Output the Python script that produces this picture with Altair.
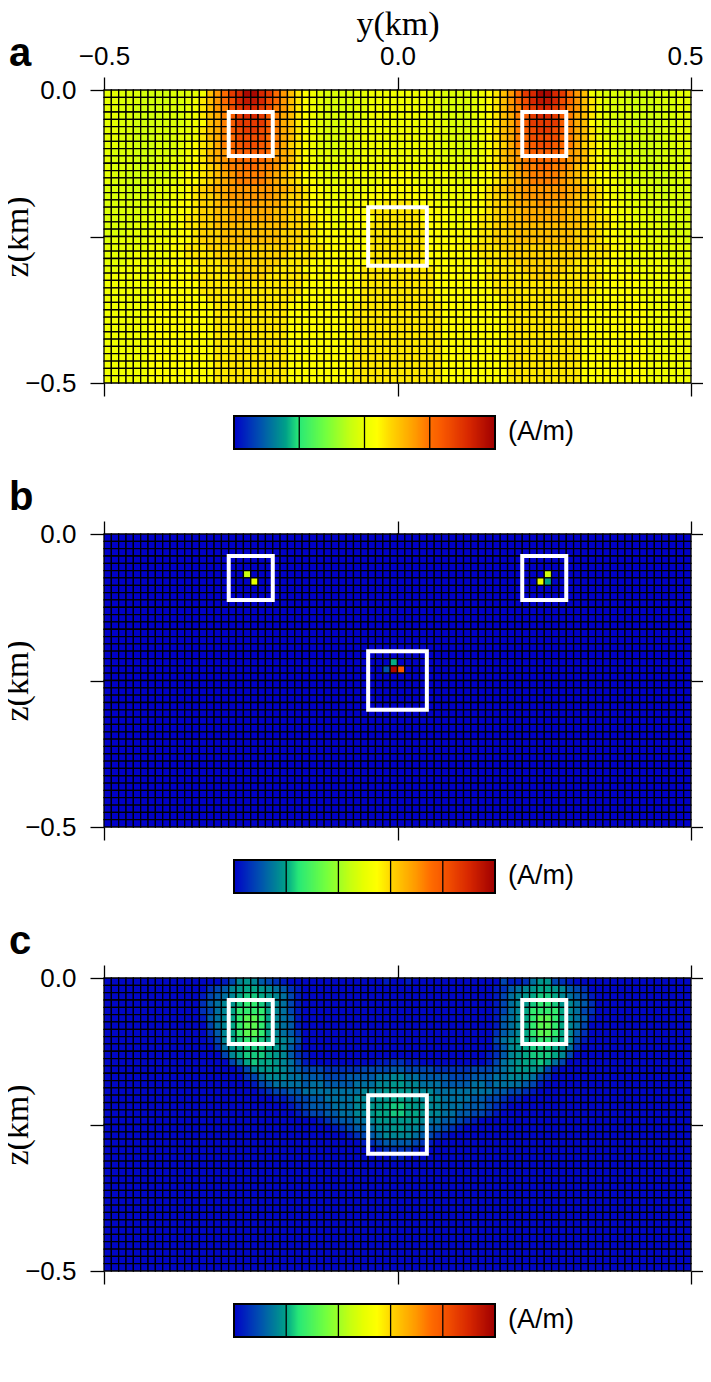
import altair as alt
import numpy as np
import pandas as pd

alt.data_transformers.disable_max_rows()

NCOL, NROW = 80, 40
STOP_T = [0, 0.1, 0.2, 0.25, 0.35, 0.45, 0.5, 0.55, 0.6, 0.7, 0.75, 0.8, 0.9, 1]
STOP_C = ["#0000c8", "#0050b0", "#00a088", "#28e878", "#70ff40", "#c8ff10", "#e8ff00", "#ffff00",
          "#ffd800", "#ff9800", "#ff7000", "#f85800", "#d82800", "#a00000"]

# Panel a: each letter is one cell, looked up in LEVEL_A (A/m); rows top to bottom, four groups of 20 columns
LEVEL_A = dict(a=-0.035, b=-0.02, c=-0.005, d=0.02, e=0.05, f=0.08, g=0.11, h=0.14, i=0.17, j=0.20,
               k=0.23, l=0.26, m=0.29, n=0.32, o=0.36, p=0.40, q=0.44, r=0.48)
ROW_A_LOW = "ddddddeeeeeeeeefffff fffffeeeeeeeeeffffff ffffffeeeeeeeeefffff fffffeeeeeeeeedddddd"
ROW_A_MID = "dddddddeeeeeefffffff fffffffeeeeeeeefffff fffffeeeeeeeefffffff fffffffeeeeeeddddddd"
ROWS_A = [
    "ccbbbaaaabbbcdhjlopr rpoljhfedcbbbbccdddd ddddccbbbbcdefhjlopr rpoljhdcbbbaaaabbbcc",
    "ccbbbaaaabbcdfhjlnpq qpnljhfedcbbbbccdddd ddddccbbbbcdefhjlnpq qpnljhfdcbbaaaabbbcc",
    "ccbbaaaabbbcdfhjknop ponkjhfedcbbbbccdddd ddddccbbbbcdefhjknop ponkjhfdcbbbaaaabbcc",
    "ccbbaaaabbbcdfhikmop pomkihfedcbbbbccdddd ddddccbbbbcdefhikmop pomkihfdcbbbaaaabbcc",
    "ccbbaaaabbbcdehikmoo oomkihfedcbbbccddddd dddddccbbbcdefhikmoo oomkihedcbbbaaaabbcc",
    "ccbbaaabbbccdfhikmno onmkihfedcbbbccddddd dddddccbbbcdefhikmno onmkihfdccbbbaaabbcc",
    "ccbbaaabbbccdfhiklnn nnlkihfedcbbbccddddd dddddccbbbcdefhiklnn nnlkihfdccbbbaaabbcc",
    "ccbbaaabbbcdefgiklmn nmlkigfedcbbcccddddd dddddcccbbcdefgiklmn nmlkigfedcbbbaaabbcc",
    "cbbbaaabbbcdefhijlmm mmljihfedccbcccddddd dddddcccbccdefhijlmm mmljihfedcbbbaaabbbc",
    "cbbbaaabbccdefhijkll llkjihfedccccccddddd dddddccccccdefhijkll llkjihfedccbbaaabbbc",
    "cbbbaabbbccdefghjkkl lkkjhgfedccccddddddd dddddddccccdefghjkkl lkkjhgfedccbbbaabbbc",
    "cbbaaabbbcdeefghijkk kkjihgfeedccddddddee eeddddddccdeefghijkk kkjihgfeedcbbbaaabbc",
    "cbbaabbbccdeefghijkk kkjihgfeeddcddddddee eeddddddcddeefghijkk kkjihgfeedccbbbaabbc",
    "bbbaabbccddefghiijjj jjjiihgfeedddddddeee eeedddddddeefghiijjj jjjiihgfeddccbbaabbb",
    "bbbabbbccddefgghijjj jjjihggfeedddddeeeee eeeeedddddeefgghijjj jjjihggfeddccbbbabbb",
    "bbbbbbcccdeefgghiiij jiiihggfeedddddeeeff ffeeedddddeefgghiiij jiiihggfeedcccbbbbbb",
    "bbbbbbccddeefgghhiii iiihhggfeedddeeeffff ffffeeedddeefgghhiii iiihhggfeeddccbbbbbb",
    "bbbbbcccddeffgghhiii iiihhggffeeddeeeefff fffeeeeddeeffgghhiii iiihhggffeddcccbbbbb",
    "bbbbcccdddeffgghhhhh hhhhhggffeeddeeeffff ffffeeeddeeffgghhhhh hhhhhggffedddcccbbbb",
    "bbbcccddddeefggghhhh hhhhgggffeeeeeeeffff ffffeeeeeeeffggghhhh hhhhgggfeeddddcccbbb",
    "bcccccdddeeefggghhhh hhhhgggffeeeeeeeffff ffffeeeeeeeffggghhhh hhhhgggfeeedddcccccb",
    "ccccccdddeefffgggggg ggggggffffeeeeeeffff ffffeeeeeeffffgggggg ggggggfffeedddcccccc",
    "ccccdddddeeffffggggg gggggffffeeeeeeeffff ffffeeeeeeeffffggggg gggggffffeedddddcccc",
    "cccddddddeeeffffgggg ggggffffeeeeeeeeffff ffffeeeeeeeeffffgggg ggggffffeeeddddddccc",
    "ccddddddeeeeeffffggg gggffffeeeeeeeefffff fffffeeeeeeeeffffggg gggffffeeeeeddddddcc",
    "dddddddeeeeeffffffgg ggffffffeeeeeeefffff fffffeeeeeeeffffffgg ggffffffeeeeeddddddd",
    ROW_A_MID,
    ROW_A_MID,
    "dddddddeeeeeeeffffff ffffffeeeeeeeeefffff fffffeeeeeeeeeffffff ffffffeeeeeeeddddddd",
] + [ROW_A_LOW] * 11

# Panel b: near-zero background and the few bright cells (column, row, A/m)
BACKGROUND_B = 0.0
BRIGHT_B = [(19, 5, 115), (20, 6, 125), (60, 5, 115), (59, 6, 125), (60, 6, 50),
            (39, 17, 52), (38, 18, 25), (39, 18, 245), (40, 18, 200)]

# Panel c: same letter scheme with LEVEL_C (A/m)
LEVEL_C = dict(a=0.02, b=0.08, c=0.15, d=0.22, e=0.28, f=0.35, g=0.42, h=0.47, i=0.51, j=0.57,
               k=0.66, l=0.80)
Q = "aaaaaaaaaaaaaaaaaaaa"
ROW_C_QUIET = f"{Q} {Q} {Q} {Q}"
ROWS_C = [
    "aaaaaaaaaaaaaaaabdgh gedcbaaaaaaaaaaaaaba abaaaaaaaaaaaadbbcfh hdcbaaaaaaaaaaaaaaaa",
    "aaaaaaaaaaaaaacdeghi ihgfecbaaaaaaaaaaaaa aaaaaaaaaaaaabcefghi ihgedcaaaaaaaaaaaaaa",
    "aaaaaaaaaaaaabdefgij jihgfdbaaaaaaaaaaaaa aaaaaaaaaaaaabdfghij jigfedbaaaaaaaaaaaaa",
    "aaaaaaaaaaaaacefghjk kjhgfdbaaaaaaaaaaaaa aaaaaaaaaaaaabdfghjk kjhgfecaaaaaaaaaaaaa",
    "aaaaaaaaaaaaacdfgikk kkigfdbaaaaaaaaaaaaa aaaaaaaaaaaaabdfgikk kkigfdcaaaaaaaaaaaaa",
    "aaaaaaaaaaaaabefgikl lkigfebaaaaaaaaaaaaa aaaaaaaaaaaaabefgikl lkigfebaaaaaaaaaaaaa",
    "aaaaaaaaaaaaaadfgikl lkigfebaaaaaaaaaaaaa aaaaaaaaaaaaabefgikl lkigfdaaaaaaaaaaaaaa",
    "aaaaaaaaaaaaaacegikl lkigfecaaaaaaaaaaaaa aaaaaaaaaaaaacefgikl lkigecaaaaaaaaaaaaaa",
    "aaaaaaaaaaaaaabdgijk kjihgfdaaaaaaaaaaaaa aaaaaaaaaaaaadfghijk kjigdbaaaaaaaaaaaaaa",
    "aaaaaaaaaaaaaaacfhij jjihgecaaaaaaaaaaaaa aaaaaaaaaaaaaceghijj jihfcaaaaaaaaaaaaaaa",
    "aaaaaaaaaaaaaaaadgij jjihgecbaaaaaaaaaaaa aaaaaaaaaaaabceghijj jigdaaaaaaaaaaaaaaaa",
    "aaaaaaaaaaaaaaaaadfi jiihgfdbaaaaaaaaabbc cbbaaaaaaaaabdfghiij ifdaaaaaaaaaaaaaaaaa",
    "aaaaaaaaaaaaaaaaaabd ghhhgfedddcccccdddde eddddcccccdddefghhhg dbaaaaaaaaaaaaaaaaaa",
    "aaaaaaaaaaaaaaaaaaac dfgggffeeedddeeeeffg gffeeeedddeeeffgggfd caaaaaaaaaaaaaaaaaaa",
    f"{Q} bdeffffeffeeeefffggh hggfffeeeeffeffffedb {Q}",
    f"{Q} abcddeeffffffffggghh hhgggffffffffeeddcba {Q}",
    f"{Q} aaabbcddeeffffggghhi ihhgggffffeeddcbbaaa {Q}",
    f"{Q} aaaaabcdeeefffgghhij jihhggfffeeedcbaaaaa {Q}",
    f"{Q} aaaaaabcddeeffgghiij jiihggffeeddcbaaaaaa {Q}",
    f"{Q} aaaaaaaaabcdeeffghhh hhhgffeedcbaaaaaaaaa {Q}",
    f"{Q} aaaaaaaaaaabcdeefggh hggfeedcbaaaaaaaaaaa {Q}",
    f"{Q} aaaaaaaaaaaaabcdefgg ggfedcbaaaaaaaaaaaaa {Q}",
    f"{Q} aaaaaaaaaaaaaaabcdee eedcbaaaaaaaaaaaaaaa {Q}",
    f"{Q} aaaaaaaaaaaaaaaaabcc ccbaaaaaaaaaaaaaaaaa {Q}",
    f"{Q} aaaaaaaaaaaaaaaaaaab baaaaaaaaaaaaaaaaaaa {Q}",
] + [ROW_C_QUIET] * 15

# White target boxes as (y left, y right, z top, z bottom) in km
BOXES = [(-0.2875, -0.2125, -0.0375, -0.1125),
         (0.2125, 0.2875, -0.0375, -0.1125),
         (-0.05, 0.05, -0.2, -0.3)]

X_TICKS = [-0.5, 0.0, 0.5]
Z_TICKS = [0.0, -0.25, -0.5]
BARS = [
    dict(lo=-0.5, hi=0.5, ticks=[-0.5, 0.0, 0.5], inner=[-0.25, 0.0, 0.25], fmt=".1f"),
    dict(lo=0, hi=250, ticks=[0, 100, 200], inner=[50, 100, 150, 200], fmt="d"),
    dict(lo=0, hi=2.5, ticks=[0, 1, 2], inner=[0.5, 1, 1.5, 2], fmt="d"),
]
PANEL_NAMES = ["a", "b", "c"]
UNIT = "(A/m)"

SANS = "Liberation Sans"
SERIF = "Liberation Serif"
W, H = 587, 293
GAP = 151
TICK_W = 1.3


def cells(values):
    rows = []
    for r in range(NROW):
        for c in range(NCOL):
            rows.append(dict(y0=-0.5 + c / NCOL, y1=-0.5 + (c + 1) / NCOL,
                             z0=-r / (2 * NROW), z1=-(r + 1) / (2 * NROW), v=values[r][c]))
    return pd.DataFrame(rows)


def from_rows(rows, level):
    return [[level[ch] for ch in row.replace(" ", "")] for row in rows]


def label_expr(fmt):
    return f"datum.value == -0.25 ? '' : replace(format(datum.value, '{fmt}'), '-', '\u2212')"


def panel(values, bar, name, first):
    color_scale = alt.Scale(domain=[bar["lo"] + t * (bar["hi"] - bar["lo"]) for t in STOP_T],
                            range=STOP_C, interpolate="rgb", clamp=True)
    xs = alt.Scale(domain=[-0.5, 0.5], nice=False, zero=False)
    zs = alt.Scale(domain=[-0.5, 0.0], nice=False, zero=False)
    common = dict(labelFont=SANS, labelFontSize=26, labelColor="black", tickColor="black",
                  tickWidth=TICK_W, domain=False, grid=False, labelOverlap=False,
                  labelFlush=False, labelBound=False)
    top_args = dict(orient="top", values=X_TICKS, tickSize=13, labelPadding=7.5, labels=first,
                    labelExpr=label_expr(".1f"), title="y(km)" if first else None)
    if first:
        top_args.update(titleFont=SERIF, titleFontSize=34, titleFontWeight="normal", titleColor="black",
                        titleX=W / 2, titleY=-56, titleAnchor="middle", titleBaseline="alphabetic",
                        labelOffset={"condition": {"test": "datum.value == 0.5", "value": -6}, "value": 0})
    left_axis = alt.Axis(orient="left", values=Z_TICKS, tickSize=14, labelPadding=14,
                         labelExpr=label_expr(".1f"), title="z(km)", titleFont=SERIF, titleFontSize=34,
                         titleFontWeight="normal", titleColor="black", titleX=-77, titleY=H / 2,
                         titleAngle=270, titleAlign="center", titleBaseline="alphabetic", **common)
    heat = alt.Chart(cells(values)).mark_rect(stroke="#000000", strokeWidth=1.3).encode(
        x=alt.X("y0:Q", scale=xs, axis=alt.Axis(**top_args, **common)),
        x2="y1:Q",
        y=alt.Y("z0:Q", scale=zs, axis=left_axis),
        y2="z1:Q",
        color=alt.Color("v:Q", scale=color_scale, legend=None),
    )
    axes = alt.Chart(pd.DataFrame({"y": [0.0], "z": [-0.25]})).mark_point(opacity=0).encode(
        x=alt.X("y:Q", scale=xs, axis=alt.Axis(orient="bottom", values=X_TICKS, tickSize=13, labels=False,
                                               title=None, **common)),
        y=alt.Y("z:Q", scale=zs, axis=alt.Axis(orient="right", values=Z_TICKS, tickSize=14, labels=False,
                                               title=None, **common)),
    )
    boxes = alt.Chart(pd.DataFrame(BOXES, columns=["a", "b", "c", "d"])).mark_rect(
        fillOpacity=0, stroke="white", strokeWidth=4).encode(
        x=alt.X("a:Q", scale=xs, axis=None), x2="b:Q",
        y=alt.Y("c:Q", scale=zs, axis=None), y2="d:Q",
    )
    tag = alt.Chart(pd.DataFrame({"t": [name]})).mark_text(
        font=SANS, fontSize=40, fontWeight="bold", align="left", baseline="alphabetic", color="black"
    ).encode(x=alt.value(-95), y=alt.value(-24), text="t:N")
    return alt.layer(heat, axes, boxes, tag).resolve_axis(x="independent", y="independent").properties(
        width=W, height=H)


def colorbar(bar):
    lo, hi = bar["lo"], bar["hi"]
    color_scale = alt.Scale(domain=[lo + t * (hi - lo) for t in STOP_T], range=STOP_C,
                            interpolate="rgb", clamp=True)
    xs = alt.Scale(domain=[lo, hi], range=[130, 391], nice=False, zero=False)
    edges = np.linspace(lo, hi, 262)
    ramp = pd.DataFrame({"x0": edges[:-1], "x1": edges[1:]})
    ramp["v"] = (ramp.x0 + ramp.x1) / 2
    y_top, y_bot = alt.value(33), alt.value(66)
    ramp_layer = alt.Chart(ramp).mark_rect(strokeWidth=1).encode(
        x=alt.X("x0:Q", scale=xs, axis=alt.Axis(
            orient="bottom", values=bar["ticks"], offset=-(GAP - 66), tickSize=13, tickColor="black",
            tickWidth=TICK_W, domain=False, grid=False, labelFont=SANS, labelFontSize=26, labelColor="black",
            labelPadding=13.5, labelOverlap=False, labelFlush=False, labelBound=False,
            labelExpr=f"replace(format(datum.value, '{bar['fmt']}'), '-', '\u2212')", title=None)),
        x2="x1:Q", y=y_top, y2=y_bot,
        color=alt.Color("v:Q", scale=color_scale, legend=None),
        stroke=alt.Stroke("v:Q", scale=color_scale, legend=None),
    )
    inner = alt.Chart(pd.DataFrame({"x": bar["inner"]})).mark_rule(color="black", strokeWidth=1.3).encode(
        x=alt.X("x:Q", scale=xs, axis=None), y=y_top, y2=y_bot)
    frame = alt.Chart(pd.DataFrame({"x": [lo], "x2": [hi]})).mark_rect(
        fillOpacity=0, stroke="black", strokeWidth=2).encode(
        x=alt.X("x:Q", scale=xs, axis=None), x2="x2:Q", y=y_top, y2=y_bot)
    unit = alt.Chart(pd.DataFrame({"x": [hi], "t": [UNIT]})).mark_text(
        font=SANS, fontSize=27, align="left", baseline="middle", dx=13, color="black").encode(
        x=alt.X("x:Q", scale=xs, axis=None), y=alt.value(49), text="t:N")
    return alt.layer(ramp_layer, inner, frame, unit).properties(width=W, height=GAP)


VALUES_A = from_rows(ROWS_A, LEVEL_A)
VALUES_B = [[BACKGROUND_B] * NCOL for _ in range(NROW)]
for col, row, val in BRIGHT_B:
    VALUES_B[row][col] = val
VALUES_C = from_rows(ROWS_C, LEVEL_C)

charts = []
for i, vals in enumerate([VALUES_A, VALUES_B, VALUES_C]):
    charts.append(panel(vals, BARS[i], PANEL_NAMES[i], i == 0))
    charts.append(colorbar(BARS[i]))

chart = alt.vconcat(*charts, spacing=0, bounds="flush").resolve_scale(
    color="independent", stroke="independent").properties(
    padding={"left": -8, "top": -1, "right": -3, "bottom": -47}, background="white"
).configure_view(stroke=None)

chart.save("out.html", embed_options={"renderer": "svg", "actions": False})
